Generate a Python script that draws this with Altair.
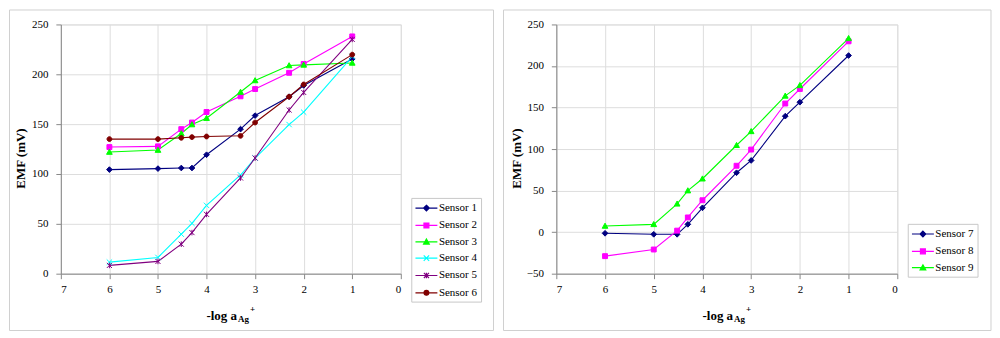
import altair as alt
import pandas as pd

# ---------------- data ----------------
x_vals = [6, 5, 4.52, 4.3, 4, 3.3, 3, 2.3, 2, 1]

left_sensors = ["Sensor 1", "Sensor 2", "Sensor 3", "Sensor 4", "Sensor 5", "Sensor 6"]
s1 = [104.4, 105.4, 106.0, 106.0, 119.3, 145.0, 158.6, 177.5, 188.8, 215.4]
s2 = [127.0, 127.7, 145.0, 151.6, 162.2, 177.9, 185.2, 201.5, 210.4, 238.0]
s3 = [122.0, 124.0, 140.6, 149.6, 156.0, 182.2, 193.8, 208.8, 209.4, 211.4]
s4 = [11.6, 16.3, 39.6, 50.5, 68.5, 99.0, 116.0, 149.6, 162.0, 217.8]
s5 = [8.3, 12.3, 29.6, 41.2, 59.5, 96.0, 116.0, 164.2, 181.8, 235.0]
s6 = [135.0, 135.0, 136.3, 137.0, 137.6, 138.3, 151.6, 177.5, 189.8, 219.7]

right_sensors = ["Sensor 7", "Sensor 8", "Sensor 9"]
s7 = [-1.4, -2.6, -2.6, 9.4, 29.3, 71.5, 86.3, 139.6, 156.4, 212.6]
s8 = [-28.9, -20.9, 1.8, 17.7, 38.4, 79.9, 99.4, 154.8, 172.3, 229.7]
s9 = [7.4, 9.4, 34.1, 50.0, 64.3, 104.6, 121.3, 164.0, 176.7, 233.3]

left_colors = ["#000080", "#FF00FF", "#00FF00", "#00FFFF", "#800080", "#800000"]
right_colors = ["#000080", "#FF00FF", "#00FF00"]
left_kinds = ["diamond", "square", "triangle", "x", "star", "circle"]
right_kinds = ["diamond", "square", "triangle"]

x_ticks = [0, 1, 2, 3, 4, 5, 6, 7]
left_y_ticks = [0, 50, 100, 150, 200, 250]
right_y_ticks = [-50, 0, 50, 100, 150, 200, 250]


def long_df(names, series):
    rows = []
    for n, vals in zip(names, series):
        for xv, yv in zip(x_vals, vals):
            rows.append({"sensor": n, "x": xv, "emf": yv})
    return pd.DataFrame(rows)


left_df = long_df(left_sensors, [s1, s2, s3, s4, s5, s6])
right_df = long_df(right_sensors, [s7, s8, s9])


# ---------------- marker paths ----------------
def f(v):
    return f"{round(v, 3)}"


def marker(kind, s):
    if kind == "diamond":
        r = 0.95 * s
        return f"M0,{f(-r)}L{f(r)},0L0,{f(r)}L{f(-r)},0Z"
    if kind == "square":
        a = 0.82 * s
        return f"M{f(-a)},{f(-a)}H{f(a)}V{f(a)}H{f(-a)}Z"
    if kind == "triangle":
        r = 0.95 * s
        return f"M0,{f(-r)}L{f(r)},{f(0.8 * r)}H{f(-r)}Z"
    if kind == "x":
        a = 0.9 * s
        return f"M{f(-a)},{f(-a)}L{f(a)},{f(a)}M{f(-a)},{f(a)}L{f(a)},{f(-a)}"
    if kind == "star":
        a = 0.85 * s
        return (f"M{f(-a)},{f(-a)}L{f(a)},{f(a)}M{f(-a)},{f(a)}L{f(a)},{f(-a)}"
                f"M0,{f(-a * 1.1)}V{f(a * 1.1)}")
    a = 0.8 * s
    return f"M{f(-a)},0A{f(a)},{f(a)},0,1,0,{f(a)},0A{f(a)},{f(a)},0,1,0,{f(-a)},0Z"


POINT_SIZE = 36          # unit = 3 px
LEGEND_SIZE = 144        # unit = 6 px
LEG_SCALE = 3.0 / 6.0
LEG_HALF = 11.0 / 6.0    # half of a 22 px legend line, in legend units


def panel(df, sensors, colors, kinds, ydomain, yticks, width, frame, legend_xy, title_x):
    cscale = alt.Scale(domain=sensors, range=colors)
    leg_paths = [f"M{f(-LEG_HALF)},0H{f(LEG_HALF)}" + marker(k, LEG_SCALE) for k in kinds]
    legend = alt.Legend(
        title=None, orient="none", legendX=legend_xy[0], legendY=legend_xy[1],
        symbolSize=LEGEND_SIZE, symbolStrokeWidth=1.2, symbolOpacity=1, symbolOffset=5,
        labelFont="Liberation Serif", labelFontSize=11, labelColor="black",
        labelOffset=5.5, rowPadding=4.4, padding=3.2,
        strokeColor="#c8c8c8", fillColor="white",
    )
    base = alt.Chart(df).encode(
        x=alt.X("x:Q", scale=alt.Scale(domain=[0, 7], reverse=True, nice=False),
                axis=alt.Axis(values=x_ticks, title=None, format="d", labelPadding=5)),
        y=alt.Y("emf:Q", scale=alt.Scale(domain=ydomain, nice=False),
                axis=alt.Axis(values=yticks, title="EMF (mV)", labelPadding=8,
                              titleX=-40, titleY=134, titleBaseline="middle",
                              titleFont="Liberation Serif", titleFontSize=13,
                              titleFontWeight="bold", titleColor="black")),
    )
    lines = base.mark_line(strokeWidth=1.1).encode(
        color=alt.Color("sensor:N", scale=cscale, legend=None))
    pts = base.mark_point(filled=True, opacity=1, size=POINT_SIZE, strokeWidth=1).encode(
        color=alt.Color("sensor:N", scale=cscale, legend=None),
        stroke=alt.Stroke("sensor:N", scale=cscale, legend=None),
        shape=alt.Shape("sensor:N", scale=alt.Scale(domain=sensors,
                        range=[marker(k, 1.0) for k in kinds]), legend=None),
    )
    leg = base.mark_point(filled=True, opacity=0, size=LEGEND_SIZE, strokeWidth=1.2).encode(
        color=alt.Color("sensor:N", scale=cscale, legend=legend),
        stroke=alt.Stroke("sensor:N", scale=cscale, legend=legend),
        shape=alt.Shape("sensor:N", scale=alt.Scale(domain=sensors, range=leg_paths),
                        legend=legend),
    )
    one = pd.DataFrame({"t": ["-log a"], "s": ["Ag"], "p": ["+"]})
    t_main = alt.Chart(one).mark_text(font="Liberation Serif", fontSize=13, fontWeight="bold",
                                      align="right", baseline="alphabetic", color="black").encode(
        text="t:N", x=alt.value(title_x), y=alt.value(296.3))
    t_sub = alt.Chart(one).mark_text(font="Liberation Serif", fontSize=9, fontWeight="bold",
                                     align="left", baseline="alphabetic", color="black").encode(
        text="s:N", x=alt.value(title_x + 1), y=alt.value(298.5))
    t_sup = alt.Chart(one).mark_text(font="Liberation Serif", fontSize=9, fontWeight="bold",
                                     align="center", baseline="middle", color="black").encode(
        text="p:N", x=alt.value(title_x + 15.5), y=alt.value(285.7))
    box = alt.Chart(one).mark_rect(fill="white", fillOpacity=0, stroke="#d0d0d0",
                                   strokeWidth=1).encode(
        x=alt.value(frame[0]), x2=alt.value(frame[1]),
        y=alt.value(frame[2]), y2=alt.value(frame[3]))
    return alt.layer(box, lines, pts, leg, t_main, t_sub, t_sup).resolve_scale(
        color="independent", stroke="independent", shape="independent"
    ).properties(width=width, height=250)


left = panel(left_df, left_sensors, left_colors, left_kinds, [0, 250], left_y_ticks, 341,
             (-51.5, 434, -14.5, 307), (351.5, 174), 176.7)
right = panel(right_df, right_sensors, right_colors, right_kinds, [-50, 250], right_y_ticks, 342,
              (-53, 436, -14.5, 307), (352.5, 200), 177.3)

chart = alt.hconcat(left, right, spacing=8, padding=0).resolve_scale(
    color="independent", stroke="independent", shape="independent"
).configure_view(stroke="#a0a0a0", strokeWidth=1.5).configure_axis(
    labelFont="Liberation Sans", labelFontSize=11, labelColor="black",
    ticks=False, tickSize=0, domain=False, grid=False
).configure_legend(
    labelFont="Liberation Serif", labelFontSize=11, labelColor="black"
).configure(
    background="white",
    style={"guide-label": {"font": "Liberation Serif", "fontSize": 11, "fill": "black"}},
)

chart.save("out.html", embed_options={"renderer": "svg", "actions": False})
